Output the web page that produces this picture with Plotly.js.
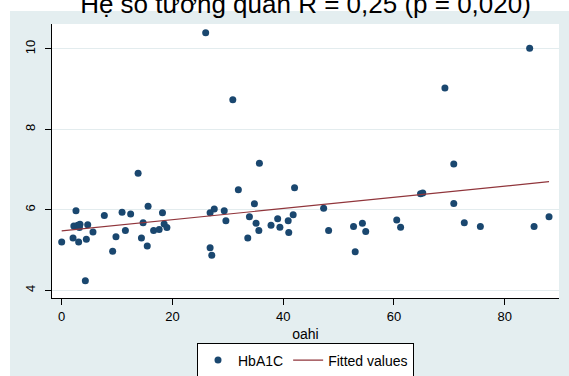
<!DOCTYPE html>
<html>
<head>
<meta charset="utf-8">
<script src="https://cdn.plot.ly/plotly-3.0.1.min.js"></script>
<style>
html,body{margin:0;padding:0;background:#fff;}
#chart{width:569px;height:376px;}
</style>
</head>
<body>
<div id="chart"></div>
<script>
// HbA1C vs oahi
const oahi = [0, 2.58, 2.2, 2.9, 3.3, 3.2, 2.05, 3.06, 4.7, 4.45, 4.27, 5.65, 7.7, 9.2, 9.8, 10.9, 11.5, 12.45, 13.8, 14.4, 14.7, 15.45, 15.6, 16.6, 17.6, 18.2, 18.5, 19.0,
  26.0, 30.9, 35.7, 31.9, 42.05, 34.8, 26.8, 27.55, 29.35, 29.65, 33.9, 35.1, 35.6, 33.6, 26.8, 27.1, 37.8, 39.0, 39.4, 40.9, 41.0, 41.8, 47.3, 48.2, 52.7, 54.3, 54.9, 53.0,
  84.5, 69.2, 70.8, 64.8, 65.2, 70.8, 60.5, 61.2, 72.7, 75.6, 85.3, 88.0];
const hba1c = [5.20, 5.98, 5.60, 5.62, 5.64, 5.56, 5.30, 5.20, 5.63, 5.27, 4.24, 5.45, 5.86, 4.97, 5.33, 5.94, 5.49, 5.90, 6.91, 5.30, 5.68, 5.10, 6.09, 5.49, 5.51, 5.93, 5.65, 5.56,
  10.40, 8.74, 7.16, 6.50, 6.55, 6.15, 5.93, 6.02, 5.98, 5.73, 5.83, 5.67, 5.49, 5.30, 5.06, 4.87, 5.62, 5.78, 5.57, 5.73, 5.44, 5.88, 6.04, 5.49, 5.59, 5.67, 5.46, 4.96,
  10.02, 9.03, 7.14, 6.40, 6.42, 6.16, 5.75, 5.57, 5.68, 5.59, 5.59, 5.83];
// Fitted values (linear fit endpoints)
const fitX = [0, 88];
const fitY = [5.48, 6.70];

const xTicks = [0, 20, 40, 60, 80];
const yTicks = [4, 6, 8, 10];

const titleText = 'Hệ số tương quan R = 0,25 (p = 0,020)';

const FONT = 'Arial, "Liberation Sans", sans-serif';
const BAND = '#e4eef0';

const traces = [
  {x: oahi, y: hba1c, type: 'scatter', mode: 'markers', name: 'HbA1C',
   marker: {color: '#1a476f', size: 7}},
  {x: fitX, y: fitY, type: 'scatter', mode: 'lines', name: 'Fitted values',
   line: {color: '#90353b', width: 1.2}}
];

const layout = {
  width: 569, height: 376,
  margin: {l: 52, r: 10, t: 24, b: 78, autoexpand: false},
  paper_bgcolor: BAND,
  plot_bgcolor: '#ffffff',
  font: {family: FONT, color: '#000'},
  title: {text: titleText, font: {size: 26, family: FONT, color: '#000'},
          xref: 'paper', x: 0.5, xanchor: 'center', yref: 'container', y: 1, yanchor: 'middle'},
  xaxis: {
    range: [-1.75, 89.8], tickvals: xTicks, ticktext: xTicks.map(String),
    showgrid: false, zeroline: false, showline: true, linecolor: '#000', linewidth: 1,
    ticks: 'outside', ticklen: 6, tickcolor: '#000', tickfont: {size: 13},
    title: {text: 'oahi', font: {size: 14}}
  },
  yaxis: {
    range: [3.81, 10.62], tickvals: yTicks, ticktext: yTicks.map(String),
    showgrid: true, gridcolor: '#e3ecee', gridwidth: 1, zeroline: false,
    showline: true, linecolor: '#000', linewidth: 1,
    ticks: 'outside', ticklen: 6, tickcolor: '#000', tickfont: {size: 13}, tickangle: -90,
    ticklabelstandoff: 5
  },
  showlegend: true,
  legend: {orientation: 'h', x: 0.5, xanchor: 'center', y: -0.166, yanchor: 'top',
           bgcolor: '#ffffff', bordercolor: '#000', borderwidth: 1, font: {size: 14}},
  // white margin strips outside the tinted graph region (top and left)
  shapes: [
    {type: 'rect', xref: 'paper', yref: 'paper', x0: -0.2, x1: 1.2, y0: 1.0474, y1: 1.3,
     fillcolor: '#ffffff', line: {width: 0}, layer: 'above'},
    {type: 'rect', xref: 'paper', yref: 'paper', x0: -0.2, x1: -0.0828, y0: -0.4, y1: 1.3,
     fillcolor: '#ffffff', line: {width: 0}, layer: 'above'}
  ]
};

Plotly.newPlot('chart', traces, layout, {displayModeBar: false, staticPlot: true}).then(function () {
  // nudge the cut-off title down and the x title up, as in the reference
  const t = document.querySelector('.g-gtitle');
  if (t) t.setAttribute('transform', 'translate(0,4)');
  const xt = document.querySelector('.g-xtitle');
  if (xt) xt.setAttribute('transform', 'translate(0,-11)');
});
</script>
</body>
</html>
